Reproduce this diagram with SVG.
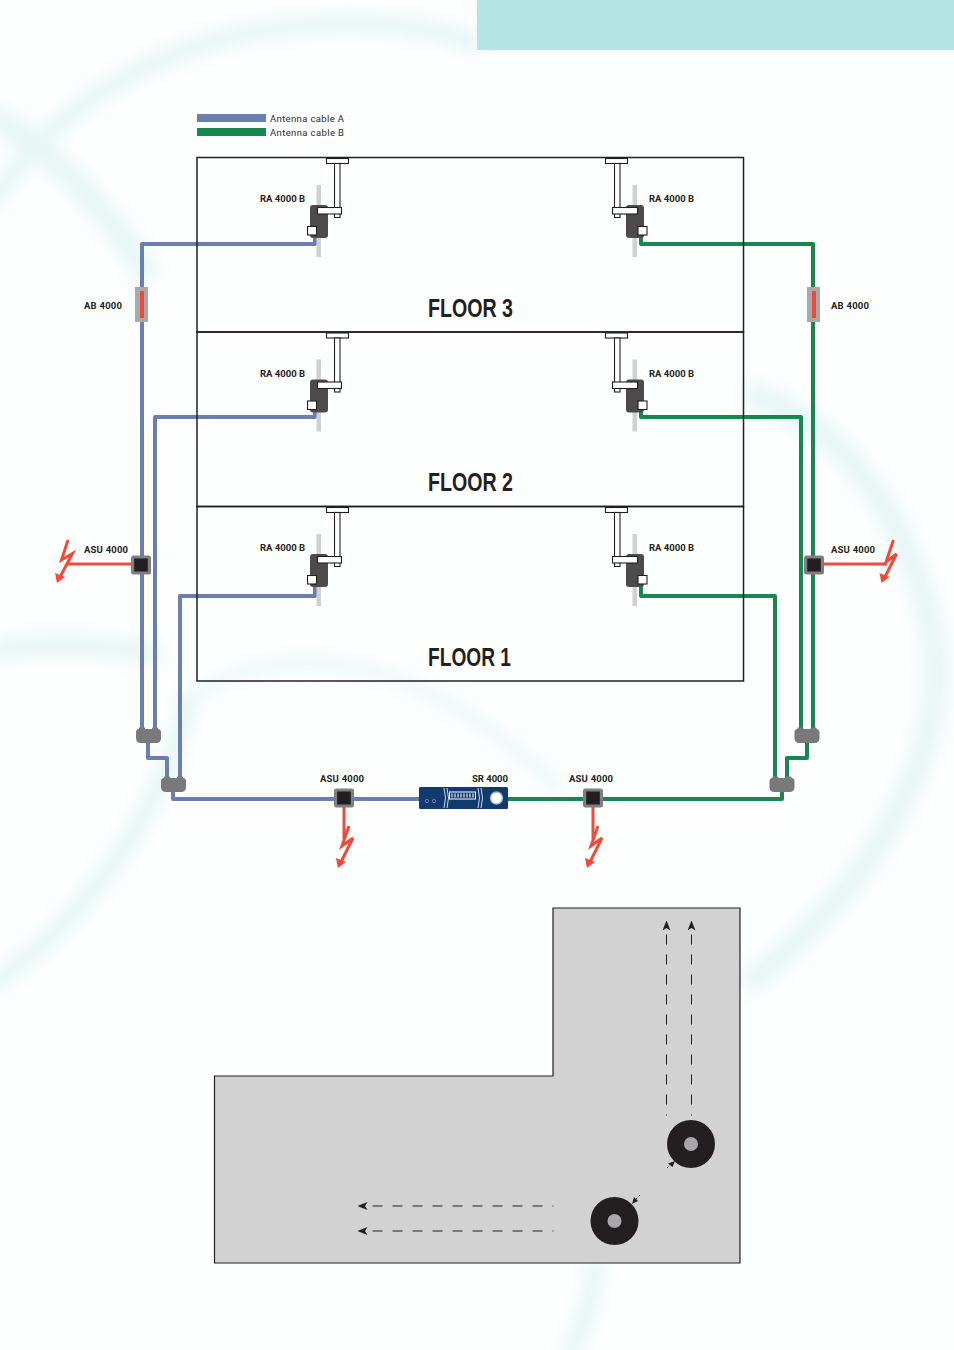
<svg xmlns="http://www.w3.org/2000/svg" width="954" height="1350" viewBox="0 0 954 1350">
<style>
.lbl{font-family:Roboto,"Liberation Sans",sans-serif;font-weight:700;font-size:9.500px;fill:#231f20}
.leg{font-family:Roboto,"Liberation Sans",sans-serif;font-weight:400;font-size:9.500px;fill:#2c2c2c}
.flr{font-family:"Liberation Sans",sans-serif;font-weight:700;font-size:26.500px;fill:#231f20}
.a{fill:none;stroke:#6a7eb0;stroke-width:4;stroke-linejoin:round}
.b{fill:none;stroke:#17874f;stroke-width:4;stroke-linejoin:round}
.zap{fill:none;stroke:#f04a3a;stroke-width:3}
.zf{fill:#f04a3a}
.box{fill:none;stroke:#231f20;stroke-width:1.500}
.wh{fill:#fff;stroke:#231f20;stroke-width:1.100}
.pole{fill:#d0d0d0}
.body{fill:#4d4b4c}
.split{fill:#79787a}
.dash{fill:none;stroke:#231f20;stroke-width:1;stroke-dasharray:10 10;stroke-dashoffset:9}
.swoosh{fill:none;stroke:#e7f6f5}
</style>
<defs>
<filter id="soft" x="-20%" y="-20%" width="140%" height="140%"><feGaussianBlur stdDeviation="8"/></filter>
<marker id="tip" viewBox="0 0 10 8" refX="1" refY="4" markerWidth="10" markerHeight="8" markerUnits="userSpaceOnUse" orient="auto"><path d="M10 4L0 0L2.500 4L0 8Z" fill="#231f20"/></marker>
<g id="raL">
<rect class="pole" x="316.500" y="185" width="4.500" height="72"/>
<rect class="body" x="310" y="205" width="18" height="33" rx="3"/>
<rect class="wh" x="326.500" y="158.500" width="22" height="5"/>
<rect class="wh" x="334.500" y="163.500" width="5.500" height="45"/>
<rect class="wh" x="334.500" y="213" width="5.500" height="4.500"/>
<rect class="wh" x="317.500" y="207.500" width="24" height="6.500"/>
<rect class="wh" x="307.500" y="226.500" width="9" height="8.500"/>
</g>
<g id="raR">
<rect class="pole" x="632.500" y="185" width="4.500" height="72"/>
<rect class="body" x="626" y="205" width="18" height="33" rx="3"/>
<rect class="wh" x="605.500" y="158.500" width="22" height="5"/>
<rect class="wh" x="614.500" y="163.500" width="5.500" height="45"/>
<rect class="wh" x="614.500" y="213" width="5.500" height="4.500"/>
<rect class="wh" x="612.500" y="207.500" width="25" height="6.500"/>
<rect class="wh" x="638" y="226.500" width="9" height="8.500"/>
</g>
<g id="asu"><rect x="-10" y="-9.500" width="20" height="19" rx="2.500" fill="#7f7e80"/><rect x="-6.800" y="-6.500" width="13.600" height="13" fill="#231f20"/></g>
<path id="splitter" class="split" d="M-12.500 5Q-12.500 1.500-9.500 1.500L-9.500 0.500Q-9.500 0-9 0L-4 0Q-3.500 0-3.500 0.500L-3.500 1.500L3.500 1.500L3.500 0.500Q3.500 0 4 0L9 0Q9.500 0 9.500 0.500L9.500 1.500Q12.500 1.500 12.500 5L12.500 10.500Q12.500 15.500 7.500 15.500L-7.500 15.500Q-12.500 15.500-12.500 10.500Z"/>
</defs>

<!-- page background and sweeping bands -->
<rect width="954" height="1350" fill="#fdfefe"/>
<g class="swoosh" filter="url(#soft)">
<path stroke-width="20" d="M-10 205C50 110 150 45 280 28C360 18 430 25 480 45"/>
<path stroke-width="26" d="M-10 115C50 150 110 210 150 280"/>
<path stroke-width="22" d="M-10 650C50 642 110 645 160 655"/>
<path stroke-width="20" d="M190 690C175 790 90 920 -10 985"/>
<path stroke-width="10" d="M190 700C240 660 320 650 400 680C460 705 510 740 560 790"/>
<path stroke-width="26" d="M745 392C840 420 915 520 935 650C945 770 860 900 745 985"/>
<path stroke-width="20" d="M570 1355C585 1320 595 1290 595 1260"/>
</g>
<rect x="477" y="0" width="477" height="50" fill="#b4e5e4"/>

<!-- legend -->
<g id="legend">
<rect x="197" y="114" width="69" height="8" fill="#6a7eb0"/>
<rect x="197" y="128" width="69" height="8" fill="#17874f"/>
<text class="leg" x="270" y="122" textLength="74">Antenna cable A</text>
<text class="leg" x="270" y="136" textLength="74">Antenna cable B</text>
</g>

<!-- cable runs -->
<g id="connectors">
<path class="a" d="M315 235V244H142V730"/>
<path class="a" d="M315 409V417H155V730"/>
<path class="a" d="M315 584V596H180V778"/>
<path class="a" d="M148 743V758H167V778"/>
<path class="a" d="M173 792V799H420"/>
<path class="b" d="M641 235V244H813V730"/>
<path class="b" d="M641 409V417H801V730"/>
<path class="b" d="M641 584V596H775V778"/>
<path class="b" d="M807 743V758H787V778"/>
<path class="b" d="M782 792V799H508"/>
<path class="zap" d="M131 564H66"/>
<path class="zap" d="M823 564H887"/>
<path class="zap" d="M344 807V839"/>
<path class="zap" d="M593 807V839"/>
</g>

<!-- floors -->
<g id="floor3"><rect class="box" x="197" y="157.500" width="546.500" height="174.500"/><text class="flr" x="428" y="317" textLength="85" lengthAdjust="spacingAndGlyphs">FLOOR 3</text></g>
<g id="floor2"><rect class="box" x="197" y="332" width="546.500" height="174.500"/><text class="flr" x="428" y="491" textLength="85" lengthAdjust="spacingAndGlyphs">FLOOR 2</text></g>
<g id="floor1"><rect class="box" x="197" y="506.500" width="546.500" height="174.500"/><text class="flr" x="428" y="666" textLength="83" lengthAdjust="spacingAndGlyphs">FLOOR 1</text></g>

<!-- roof antennas -->
<g id="ra-3l"><use href="#raL"/><text class="lbl" x="260" y="202" textLength="45">RA 4000 B</text></g>
<g id="ra-3r"><use href="#raR"/><text class="lbl" x="649" y="202" textLength="45">RA 4000 B</text></g>
<g id="ra-2l"><use href="#raL" y="174.500"/><text class="lbl" x="260" y="376.500" textLength="45">RA 4000 B</text></g>
<g id="ra-2r"><use href="#raR" y="174.500"/><text class="lbl" x="649" y="376.500" textLength="45">RA 4000 B</text></g>
<g id="ra-1l"><use href="#raL" y="349"/><text class="lbl" x="260" y="551" textLength="45">RA 4000 B</text></g>
<g id="ra-1r"><use href="#raR" y="349"/><text class="lbl" x="649" y="551" textLength="45">RA 4000 B</text></g>

<!-- amplifier boosters -->
<g id="ab-l"><rect x="135" y="287" width="13" height="35" fill="#a9a8aa"/><rect x="140" y="291" width="4" height="27" fill="#f04a3a"/><text class="lbl" x="84" y="309" textLength="38">AB 4000</text></g>
<g id="ab-r"><rect x="807" y="287" width="13" height="35" fill="#a9a8aa"/><rect x="812" y="291" width="4" height="27" fill="#f04a3a"/><text class="lbl" x="831" y="309" textLength="38">AB 4000</text></g>

<!-- splitters -->
<g id="sp-l1"><use href="#splitter" x="148.500" y="727.500"/></g>
<g id="sp-l2"><use href="#splitter" x="173.500" y="776.500"/></g>
<g id="sp-r1"><use href="#splitter" x="807" y="727.500"/></g>
<g id="sp-r2"><use href="#splitter" x="782" y="776.500"/></g>

<!-- antenna splitter units with their side antennas -->
<g id="asu-w"><use href="#asu" x="141" y="565"/><text class="lbl" x="84" y="553" textLength="44">ASU 4000</text>
<path class="zap" d="M68 540L61.500 560L72.500 553.500L60 577"/><path class="zf" d="M57 583L55 573L65 577Z"/></g>
<g id="asu-e"><use href="#asu" x="814" y="565"/><text class="lbl" x="831" y="553" textLength="44">ASU 4000</text>
<path class="zap" d="M893.500 540L886 562L896.500 554L885 577"/><path class="zf" d="M881.500 583L879.500 573L889.500 577Z"/></g>
<g id="asu-s1"><use href="#asu" x="344" y="798"/><text class="lbl" x="320" y="782" textLength="44">ASU 4000</text>
<path class="zap" d="M349 826L342 846L353 838L341 862"/><path class="zf" d="M338 868L336 858L346 862Z"/></g>
<g id="asu-s2"><use href="#asu" x="593" y="798"/><text class="lbl" x="569" y="782" textLength="44">ASU 4000</text>
<path class="zap" d="M598 826L591 846L602 838L590 862"/><path class="zf" d="M587 868L585 858L595 862Z"/></g>

<!-- receiver -->
<g id="sr">
<rect x="419" y="787" width="89" height="22" rx="1.500" fill="#123a6e"/>
<path d="M444 788Q447 798 444 808M447 788Q450 798 447 808M478 808Q481 798 478 788M481 808Q484 798 481 788" fill="none" stroke="#dfe6ef" stroke-width="0.900"/>
<rect x="449.500" y="792" width="26" height="7" fill="#123a6e" stroke="#fff" stroke-width="1"/>
<path d="M452 793.500V797.500M455 793.500V797.500M458 793.500V797.500M461 793.500V797.500M464 793.500V797.500M467 793.500V797.500M470 793.500V797.500M473 793.500V797.500" stroke="#e8edf3" stroke-width="1.200"/>
<circle cx="427" cy="801" r="1.700" fill="none" stroke="#9db0c8" stroke-width="0.600"/>
<circle cx="434" cy="801" r="1.700" fill="none" stroke="#9db0c8" stroke-width="0.600"/>
<circle cx="496.500" cy="798" r="6" fill="#fff" stroke="#a8b8cc" stroke-width="1.400"/>
<text class="lbl" x="472" y="782" textLength="36">SR 4000</text>
</g>

<!-- floor plan with spiral cable drums -->
<g id="plan">
<path d="M553 908H740V1263H214.500V1076H553Z" fill="#d2d2d2" stroke="#231f20" stroke-width="1.200"/>
<g id="paths">
<path class="dash" d="M666.500 1115.500V929.500" marker-end="url(#tip)"/>
<path class="dash" d="M691.500 1115.500V929.500" marker-end="url(#tip)"/>
<path class="dash" d="M553.500 1206H366.500" marker-end="url(#tip)"/>
<path class="dash" d="M553.500 1231H366.500" marker-end="url(#tip)"/>
</g>
<g id="drum-a"><circle cx="691" cy="1144" r="24" fill="#231f20"/><circle cx="691" cy="1144" r="7" fill="#a7a6a8"/></g>
<g id="drum-b"><circle cx="614.500" cy="1221" r="24" fill="#231f20"/><circle cx="614.500" cy="1221" r="7" fill="#a7a6a8"/></g>
<path d="M667 1168L671 1164" fill="none" stroke="#231f20" stroke-dasharray="2 2"/><path d="M675 1161L668 1163.500L672.500 1167Z" fill="#231f20"/>
<path d="M640 1195L636 1199" fill="none" stroke="#231f20" stroke-dasharray="2 2"/><path d="M632 1204L634 1197L638 1201Z" fill="#231f20"/>
</g>
</svg>
